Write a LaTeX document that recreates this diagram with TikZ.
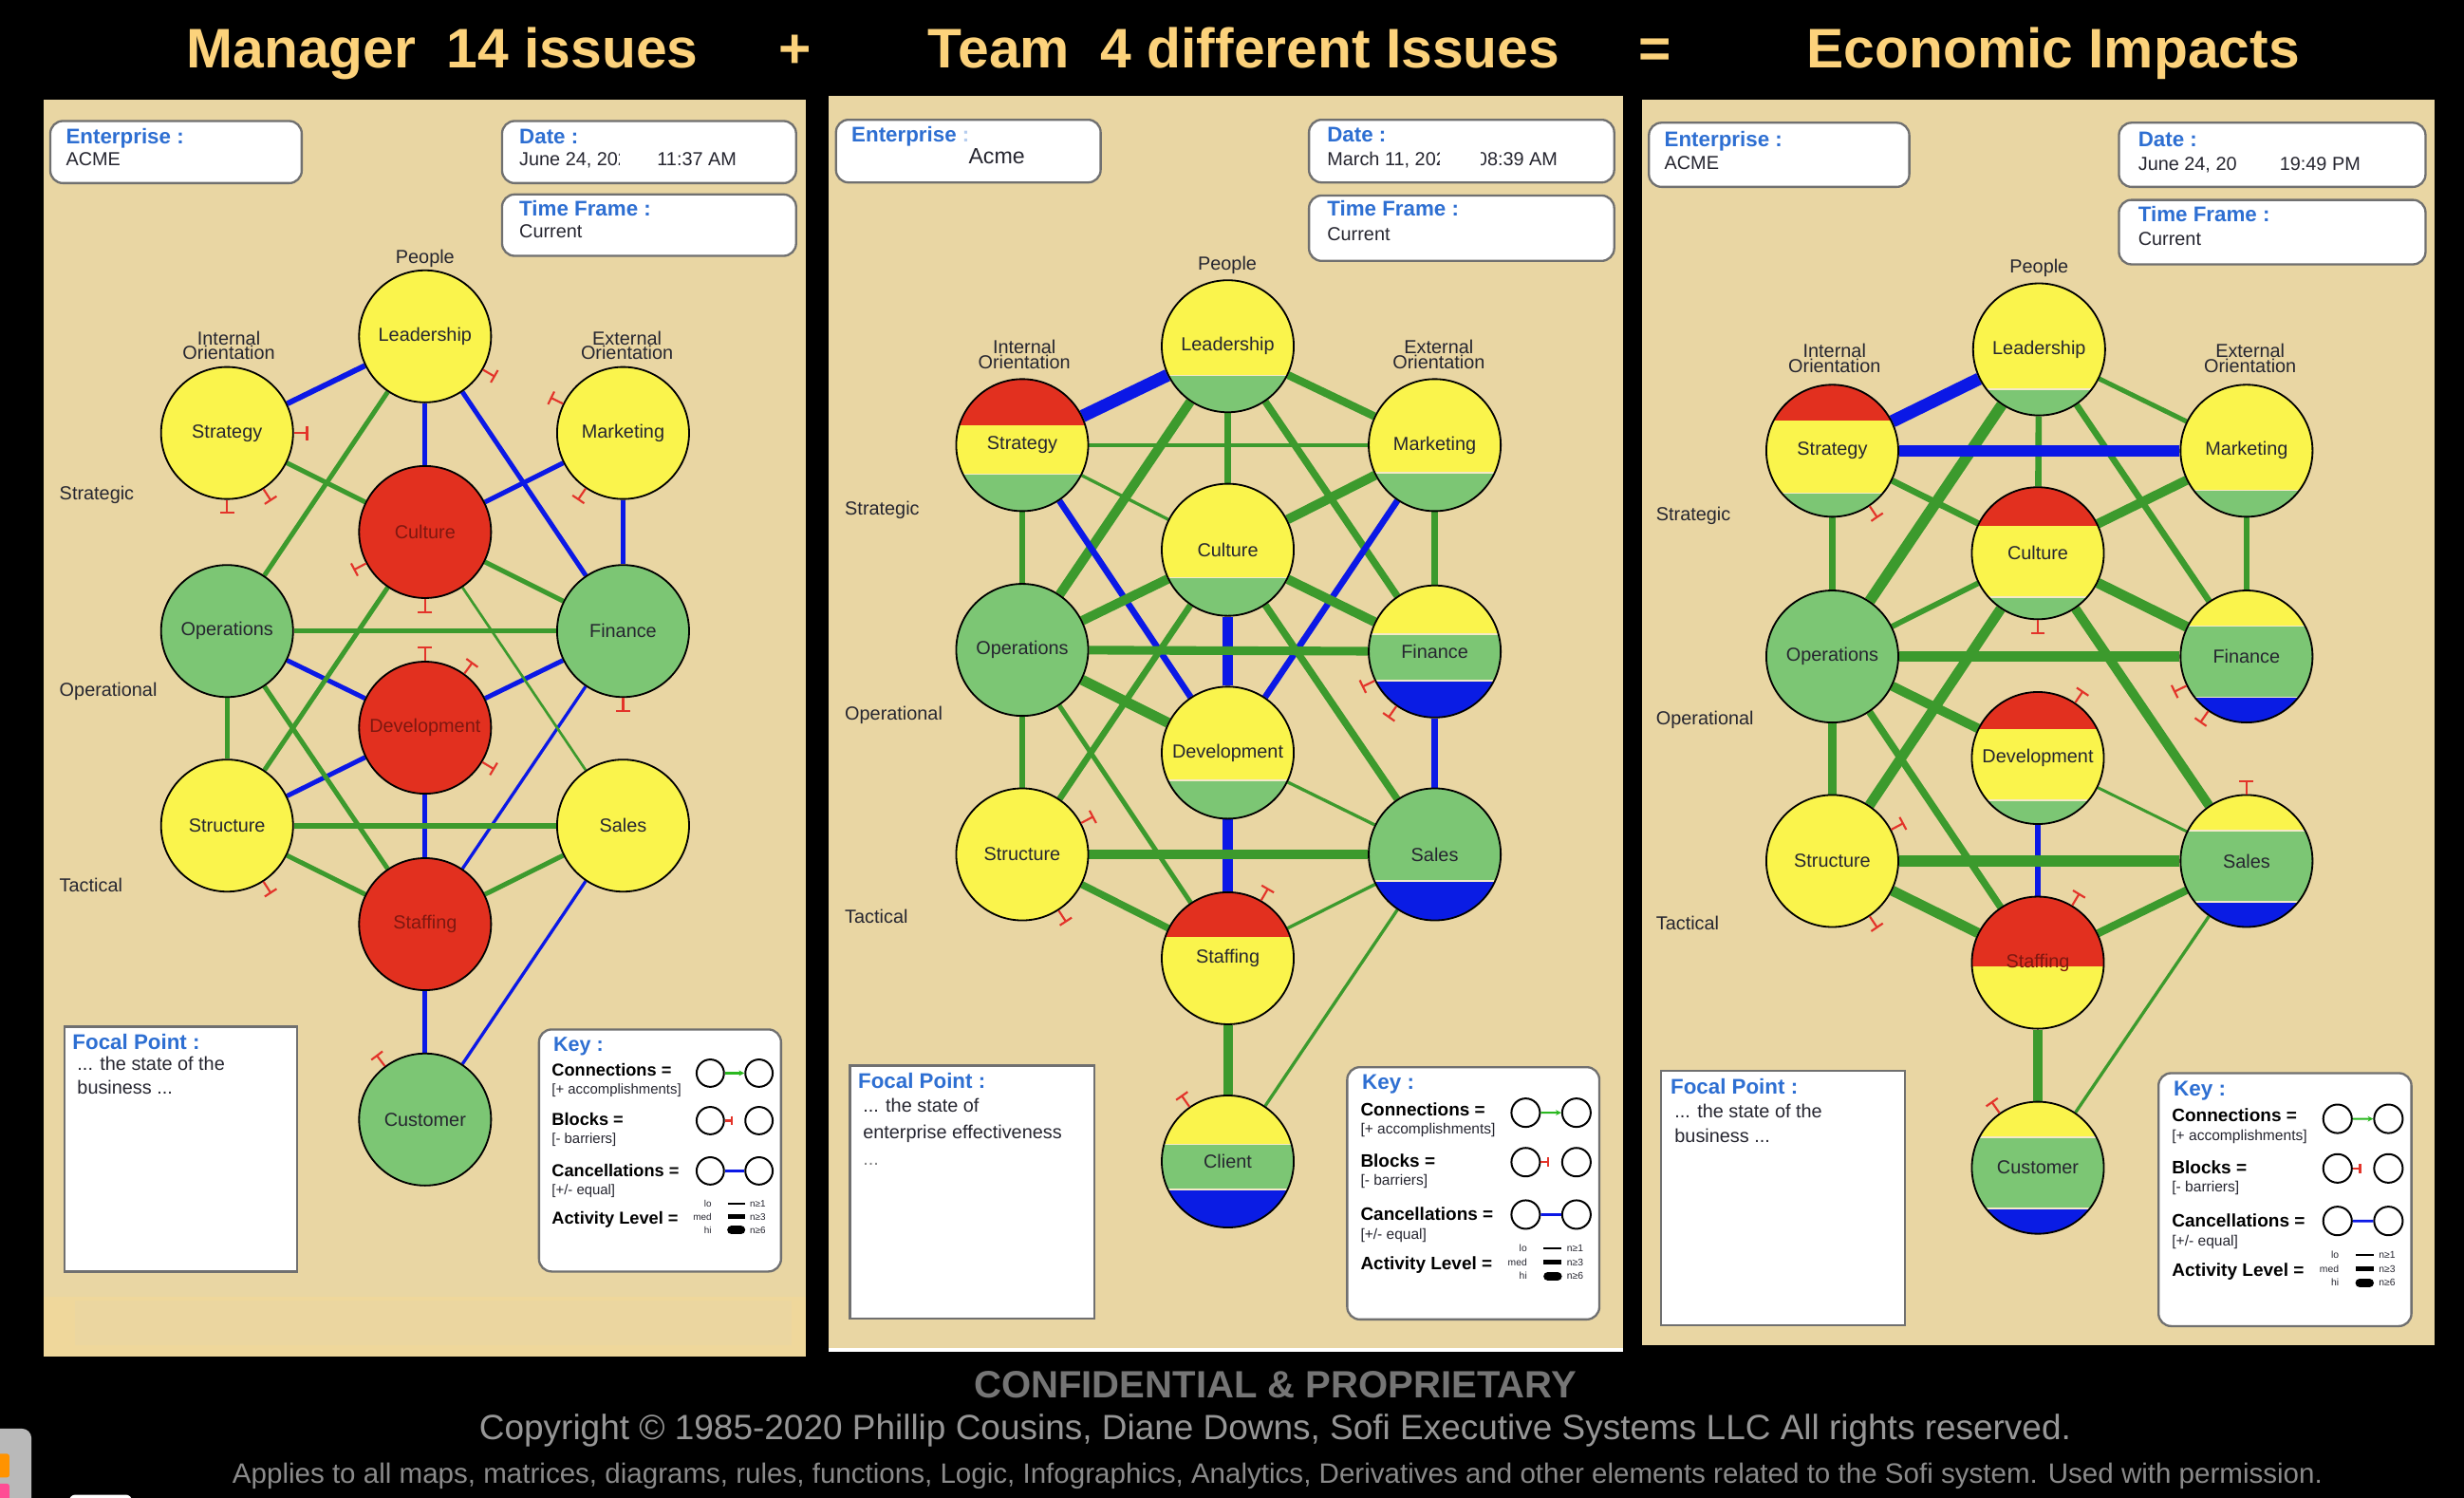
\documentclass[tikz,border=0pt]{standalone}
\usepackage{fontspec}
\setmainfont{Liberation Sans}
\usetikzlibrary{calc,arrows.meta}
\pgfdeclarelayer{bg}
\pgfdeclarelayer{edges}
\pgfsetlayers{bg,edges,main}
\definecolor{panelc}{HTML}{E9D6A3}
\definecolor{stripc}{HTML}{EFD79B}
\definecolor{cY}{HTML}{FAF44C}
\definecolor{cG}{HTML}{7CC674}
\definecolor{cR}{HTML}{E2301F}
\definecolor{cB}{HTML}{0A1CE4}
\definecolor{lG}{HTML}{3C9A2D}
\definecolor{lB}{HTML}{0B18E6}
\definecolor{bkR}{HTML}{E3342A}
\definecolor{tB}{HTML}{2E6FD2}
\definecolor{dR}{HTML}{7E1810}
\definecolor{txt}{HTML}{262630}
\definecolor{ttlc}{HTML}{FCD27B}
\definecolor{ftc}{HTML}{8A8A8A}
\definecolor{boxl}{HTML}{707070}
\definecolor{sepc}{HTML}{F4E9C8}
\newcommand\bnd[3]{\fill[#1] ($(path picture bounding box.north west)!#2!(path picture bounding box.south west)$) rectangle ($(path picture bounding box.north east)!#3!(path picture bounding box.south east)$);}
\newcommand\sep[1]{\draw[sepc, line width=1pt] ($(path picture bounding box.north west)!#1!(path picture bounding box.south west)$) -- ($(path picture bounding box.north east)!#1!(path picture bounding box.south east)$);}
\newcommand\cn[4]{\draw[#1, line width=#2pt] (#3) -- (#4);}
\newcommand\blk[2]{\draw[bkR, line width=1.3pt, -{Bar[width=9pt,line width=1.3pt]}] (#1.#2) -- ++(#2:9pt);}
\tikzset{
 nd/.style={circle, draw=black, line width=1.1pt, minimum size=84pt, inner sep=0pt, text=txt, font=\fontsize{12}{14}\selectfont},
 rd/.style={nd, fill=cR, text=dR},
 yd/.style={nd, fill=cY},
 gd/.style={nd, fill=cG},
 ibox/.style={draw=boxl, line width=1.4pt, fill=white, rounded corners=8pt},
 fbox/.style={draw=boxl, line width=1.4pt, fill=white},
 lbl/.style={font=\bfseries\fontsize{13.5}{15}\selectfont, text=tB, anchor=base west, inner sep=0pt},
 val/.style={font=\fontsize{12}{14}\selectfont, text=txt, anchor=base west, inner sep=0pt},
 ax/.style={font=\fontsize{12}{14}\selectfont, text=txt, anchor=base west, inner sep=0pt},
 axc/.style={font=\fontsize{12}{14}\selectfont, text=txt, anchor=base, inner sep=0pt},
 ttl/.style={font=\bfseries\fontsize{35.5}{40}\selectfont, text=ttlc, anchor=base, inner sep=0pt},
 kh/.style={font=\bfseries\fontsize{13}{15}\selectfont, text=tB, anchor=base west, inner sep=0pt},
 kb/.style={font=\bfseries\fontsize{11}{13}\selectfont, text=black, anchor=base west, inner sep=0pt},
 ks/.style={font=\fontsize{9}{11}\selectfont, text=txt, anchor=base west, inner sep=0pt},
 kt/.style={font=\fontsize{6}{7}\selectfont, text=txt, inner sep=0pt},
 kc/.style={circle, draw=black, line width=1.2pt, minimum size=17.4pt, inner sep=0pt, fill=white},
}
\newcommand\keybox[3]{%
\begin{scope}[shift={(#1,#2)}, scale=#3, transform shape]
 \draw[ibox] (0,0) rectangle (154,154);
 \node[kh] (kk) at (9,13.7) {Key :};
 \node[kb] (k01) at (8,29.7) {Connections =};
 \node[ks] (k02) at (8,40.9) {[+ accomplishments]};
 \node[kb] (k03) at (8,61.3) {Blocks =};
 \node[ks] (k04) at (8,72.3) {[- barriers]};
 \node[kb] (k05) at (8,93.8) {Cancellations =};
 \node[ks] (k06) at (8,105.3) {[+/- equal]};
 \node[kb] (k07) at (8,123.7) {Activity Level =};
 \node[kc] (k1) at (109,27.8) {};
 \node[kc] (k2) at (140,27.8) {};
 \draw[lG!70!green, line width=1.3pt, -{Stealth[length=3.5pt,width=3.5pt]}] (k1) -- (k2);
 \node[kc] (k3) at (109,58) {};
 \node[kc] (k4) at (140,58) {};
 \draw[bkR, line width=1.3pt, -{Bar[width=6pt,line width=1.3pt]}] (k3.east) -- ++(5pt,0);
 \node[kc] (k5) at (109,90) {};
 \node[kc] (k6) at (140,90) {};
 \draw[lB, line width=1.6pt] (k5) -- (k6);
 \node[kt, anchor=base east] (k08) at (110,112.8) {lo};
 \node[kt, anchor=base east] (k09) at (110,121.2) {med};
 \node[kt, anchor=base east] (k10) at (110,129.7) {hi};
 \draw[black, line width=1.2pt] (120,110.8) -- (131,110.8);
 \draw[black, line width=3pt] (120,119.2) -- (131,119.2);
 \draw[black, line width=5.5pt, line cap=round] (122.5,127.7) -- (128.5,127.7);
 \node[kt, anchor=base west] (k11) at (134,112.8) {n≥1};
 \node[kt, anchor=base west] (k12) at (134,121.2) {n≥3};
 \node[kt, anchor=base west] (k13) at (134,129.7) {n≥6};
\end{scope}}
\begin{document}
\begin{tikzpicture}[x=1pt,y=-1pt]
\useasboundingbox (0,0) rectangle (1568,953);
\begin{pgfonlayer}{bg}
\fill[black] (0,0) rectangle (1568,953);
\fill[panelc] (28,63.4) rectangle (513,863);
\fill[stripc] (28,825) rectangle (513,863);
\fill[panelc!60!stripc] (48,827.5) rectangle (503.5,855.7);
\fill[white] (527,60.8) rectangle (1033,860);
\fill[panelc] (527,60.8) rectangle (1033,857.5);
\fill[panelc] (1045,63.4) rectangle (1549,856);
% dock fragment
\fill[gray!55, rounded corners=6pt] (-12,909) rectangle (20,975);
\fill[orange!85!yellow, rounded corners=1.5pt] (-4,925) rectangle (6,940);
\fill[red!60!magenta!70!white, rounded corners=1.5pt] (-4,944) rectangle (6,962);
\fill[white, rounded corners=4pt] (44,951) rectangle (84,965);
\end{pgfonlayer}

% titles
\node[ttl] (t1) at (281.5,43) {Manager\ \ 14 issues};
\node[ttl] (t2) at (506,43) {+};
\node[ttl] (t3) at (791.5,43) {Team\ \ 4 different Issues};
\node[ttl] (t4) at (1053,43) {=};
\node[ttl] (t5) at (1306.5,43) {Economic Impacts};

% footer
\node[anchor=base, inner sep=0pt, text=ftc!85!black, font=\bfseries\fontsize{24.2}{28}\selectfont] (f1) at (811.5,889.6) {CONFIDENTIAL \& PROPRIETARY};
\node[anchor=base, inner sep=0pt, text=ftc!90!white] (f2) at (811.5,916) {\resizebox{1013pt}{!}{\fontsize{21}{24}\selectfont Copyright © 1985-2020 Phillip Cousins, Diane Downs, Sofi Executive Systems LLC All rights reserved.}};
\node[anchor=base, inner sep=0pt, text=ftc] (f3) at (813,944) {\resizebox{1330pt}{!}{\fontsize{17}{20}\selectfont Applies to all maps, matrices, diagrams, rules, functions, Logic, Infographics, Analytics, Derivatives and other elements related to the Sofi system. Used with permission.}};

% ================= PANEL 1 =================
\draw[ibox] (32,77) rectangle (192,116.5);
\draw[ibox] (319.5,77) rectangle (506.6,116.5);
\draw[ibox] (319.5,123.7) rectangle (506.6,162.8);
\node[lbl] (a01) at (41.8,91.4) {Enterprise :};
\node[val] (a02) at (41.8,105.5) {ACME};
\node[lbl] (a03) at (330.3,91.4) {Date :};
\begin{scope}
\clip (325,95) rectangle (394.3,112);
\node[val] (a04) at (330.3,105.5) {June 24, 2020};
\end{scope}
\node[val] (a05) at (418,105.5) {11:37 AM};
\node[lbl] (a06) at (330.3,137.5) {Time Frame :};
\node[val] (a07) at (330.3,151) {Current};
\node[axc] (a08) at (270.5,167.9) {People};
\node[axc] (a09) at (145.6,219.7) {Internal};
\node[axc] (a10) at (145.6,228.6) {Orientation};
\node[axc] (a11) at (399,219.7) {External};
\node[axc] (a12) at (399,228.6) {Orientation};
\node[ax] (a13) at (37.7,318) {Strategic};
\node[ax] (a14) at (37.7,443.3) {Operational};
\node[ax] (a15) at (37.7,567.6) {Tactical};

\node[yd] (aL) at (270.5,214) {Leadership};
\node[yd] (aS) at (144.5,275.5) {Strategy};
\node[yd] (aM) at (396.5,275.5) {Marketing};
\node[rd] (aC) at (270.5,338.5) {Culture};
\node[gd] (aO) at (144.5,401.5) {Operations};
\node[gd] (aF) at (396.5,401.5) {Finance};
\node[rd] (aD) at (270.5,463) {Development};
\node[yd] (aT) at (144.5,525.3) {Structure};
\node[yd] (aA) at (396.5,525.3) {Sales};
\node[rd] (aP) at (270.5,588) {Staffing};
\node[gd] (aU) at (270.5,712.3) {Customer};

\begin{pgfonlayer}{edges}
\cn{lB}{3.5}{aL}{aS}
\cn{lB}{3}{aL}{aC}
\cn{lB}{3}{aL}{aF}
\cn{lB}{3}{aM}{aC}
\cn{lB}{3}{aM}{aF}
\cn{lB}{3}{aO}{aD}
\cn{lB}{3}{aF}{aD}
\cn{lB}{3}{aT}{aD}
\cn{lB}{3}{aD}{aP}
\cn{lB}{2}{aF}{aP}
\cn{lB}{2}{aA}{aU}
\cn{lB}{3}{aP}{aU}
\cn{lG}{3}{aL}{aO}
\cn{lG}{3}{aS}{aC}
\cn{lG}{3}{aC}{aF}
\cn{lG}{3}{aC}{aT}
\cn{lG}{1.6}{aC}{aA}
\cn{lG}{3}{aO}{aF}
\cn{lG}{3}{aO}{aT}
\cn{lG}{3}{aO}{aP}
\cn{lG}{3.5}{aT}{aA}
\cn{lG}{3}{aT}{aP}
\cn{lG}{3}{aA}{aP}
\end{pgfonlayer}
\blk{aL}{-30}
\blk{aS}{0}
\blk{aS}{-90}
\blk{aS}{-57}
\blk{aM}{154}
\blk{aM}{-124}
\blk{aC}{-152}
\blk{aC}{-90}
\blk{aD}{90}
\blk{aD}{54}
\blk{aF}{-90}
\blk{aD}{-31}
\blk{aT}{-57}
\blk{aU}{127}

\draw[fbox] (41,653.3) rectangle (189,809);
\node[lbl] (a16) at (46,667.9) {Focal Point :};
\node[val] (a17) at (49,681) {... the state of the};
\node[val] (a18) at (49,696) {business ...};
\keybox{343}{655}{1}

% ================= PANEL 2 =================
\draw[ibox] (532,76.2) rectangle (700.4,116.1);
\draw[ibox] (833,76.2) rectangle (1027.2,116.1);
\draw[ibox] (833,124.4) rectangle (1027.2,166);
\node[lbl] (b01) at (541.7,90) {Enterprise \textcolor{tB!35!white}{:}};
\node[val, font=\fontsize{14}{16}\selectfont] (b02) at (616.2,104) {Acme};
\node[lbl] (b03) at (844.4,90) {Date :};
\begin{scope}
\clip (840,94) rectangle (916.2,112);
\node[val] (b04) at (844.4,105.6) {March 11, 2020};
\end{scope}
\begin{scope}
\clip (942.3,94) rectangle (1020,112);
\node[val] (b05) at (939.6,105.6) {08:39 AM};
\end{scope}
\node[lbl] (b06) at (844.4,137.6) {Time Frame :};
\node[val] (b07) at (844.4,153.2) {Current};
\node[axc] (b08) at (781,171.7) {People};
\node[axc] (b09) at (651.8,225.2) {Internal};
\node[axc] (b10) at (651.8,234.9) {Orientation};
\node[axc] (b11) at (915.6,225.2) {External};
\node[axc] (b12) at (915.6,234.9) {Orientation};
\node[ax] (b13) at (537.5,327.7) {Strategic};
\node[ax] (b14) at (537.5,458) {Operational};
\node[ax] (b15) at (537.5,587.3) {Tactical};

\node[nd, path picture={\bnd{cY}{0}{0.72}\bnd{cG}{0.72}{1}\sep{0.72}}] (bL) at (781.3,220.3) {Leadership};
\node[nd, path picture={\bnd{cR}{0}{0.35}\bnd{cY}{0.35}{0.72}\bnd{cG}{0.72}{1}\sep{0.72}}] (bS) at (650.5,283.2) {Strategy};
\node[nd, path picture={\bnd{cY}{0}{0.71}\bnd{cG}{0.71}{1}\sep{0.71}}] (bM) at (913,283.2) {Marketing};
\node[nd, path picture={\bnd{cY}{0}{0.71}\bnd{cG}{0.71}{1}\sep{0.71}}] (bC) at (781.3,349.8) {Culture};
\node[gd] (bO) at (650.5,413.5) {Operations};
\node[nd, path picture={\bnd{cY}{0}{0.37}\bnd{cG}{0.37}{0.72}\bnd{cB}{0.72}{1}\sep{0.37}\sep{0.72}}] (bF) at (913,414.5) {Finance};
\node[nd, path picture={\bnd{cY}{0}{0.71}\bnd{cG}{0.71}{1}\sep{0.71}}] (bD) at (781.3,478.9) {Development};
\node[yd] (bT) at (650.5,543.6) {Structure};
\node[nd, path picture={\bnd{cG}{0}{0.70}\bnd{cB}{0.70}{1}\sep{0.70}}] (bA) at (913,543.6) {Sales};
\node[nd, path picture={\bnd{cR}{0}{0.34}\bnd{cY}{0.34}{1}}] (bP) at (781.3,609.7) {Staffing};
\node[nd, path picture={\bnd{cY}{0}{0.37}\bnd{cG}{0.37}{0.71}\bnd{cB}{0.71}{1}\sep{0.37}\sep{0.71}}] (bU) at (781.3,739) {Client};

\begin{pgfonlayer}{edges}
\cn{lB}{8}{bL}{bS}
\cn{lG}{5}{bL}{bM}
\cn{lG}{4}{bL}{bC}
\cn{lG}{6}{bL}{bO}
\cn{lG}{4.5}{bL}{bF}
\cn{lG}{2}{bS}{bM}
\cn{lG}{2}{bS}{bC}
\cn{lG}{4}{bS}{bO}
\cn{lB}{4}{bS}{bD}
\cn{lG}{6}{bM}{bC}
\cn{lG}{4}{bM}{bF}
\cn{lB}{4}{bM}{bD}
\cn{lG}{6}{bC}{bO}
\cn{lG}{6}{bC}{bF}
\cn{lB}{7}{bC}{bD}
\cn{lG}{4}{bC}{bT}
\cn{lG}{4.5}{bC}{bA}
\cn{lG}{5.5}{bO}{bF}
\cn{lG}{6.5}{bO}{bD}
\cn{lG}{3}{bO}{bP}
\cn{lG}{4}{bO}{bT}
\cn{lB}{4.5}{bF}{bA}
\cn{lG}{2}{bD}{bA}
\cn{lB}{7}{bD}{bP}
\cn{lG}{5.5}{bT}{bA}
\cn{lG}{4.5}{bT}{bP}
\cn{lG}{2}{bA}{bP}
\cn{lG}{2}{bA}{bU}
\cn{lG}{6}{bP}{bU}
\end{pgfonlayer}
\blk{bF}{-154}
\blk{bF}{-125}
\blk{bT}{28}
\blk{bT}{-57}
\blk{bP}{60}
\blk{bU}{125}

\draw[fbox] (540.8,678) rectangle (696.4,838.8);
\node[lbl] (b16) at (545.9,692.5) {Focal Point :};
\node[val] (b17) at (549,707.3) {... the state of};
\node[val] (b18) at (549,724.2) {enterprise effectiveness};
\node[val, text=gray] (b19) at (549,741.5) {...};
\keybox{857.3}{679}{1.042}

% ================= PANEL 3 =================
\draw[ibox] (1049.3,78.1) rectangle (1215,118.9);
\draw[ibox] (1348.4,78.1) rectangle (1543.5,118.9);
\draw[ibox] (1348.4,127.2) rectangle (1543.5,168.2);
\node[lbl] (c01) at (1059,93.3) {Enterprise :};
\node[val] (c02) at (1059,107.7) {ACME};
\node[lbl] (c03) at (1360.5,93.3) {Date :};
\node[val] (c04) at (1360.5,108.2) {June 24, 20};
\node[val] (c05) at (1450.5,108.2) {19:49 PM};
\node[lbl] (c06) at (1360.5,141.3) {Time Frame :};
\node[val] (c07) at (1360.5,155.9) {Current};
\node[axc] (c08) at (1297.6,173.9) {People};
\node[axc] (c09) at (1167.4,227.3) {Internal};
\node[axc] (c10) at (1167.4,237.1) {Orientation};
\node[axc] (c11) at (1431.9,227.3) {External};
\node[axc] (c12) at (1431.9,237.1) {Orientation};
\node[ax] (c13) at (1053.7,331.1) {Strategic};
\node[ax] (c14) at (1053.7,461.3) {Operational};
\node[ax] (c15) at (1053.7,591.5) {Tactical};

\node[nd, path picture={\bnd{cY}{0}{0.80}\bnd{cG}{0.80}{1}\sep{0.80}}] (cL) at (1297.6,222.3) {Leadership};
\node[nd, path picture={\bnd{cR}{0}{0.27}\bnd{cY}{0.27}{0.82}\bnd{cG}{0.82}{1}\sep{0.82}}] (cS) at (1166,286.8) {Strategy};
\node[nd, path picture={\bnd{cY}{0}{0.80}\bnd{cG}{0.80}{1}\sep{0.80}}] (cM) at (1429.6,286.8) {Marketing};
\node[nd, path picture={\bnd{cR}{0}{0.29}\bnd{cY}{0.29}{0.83}\bnd{cG}{0.83}{1}\sep{0.83}}] (cC) at (1296.8,352) {Culture};
\node[gd] (cO) at (1166,417.7) {Operations};
\node[nd, path picture={\bnd{cY}{0}{0.27}\bnd{cG}{0.27}{0.81}\bnd{cB}{0.81}{1}\sep{0.27}\sep{0.81}}] (cF) at (1429.6,417.7) {Finance};
\node[nd, path picture={\bnd{cR}{0}{0.28}\bnd{cY}{0.28}{0.82}\bnd{cG}{0.82}{1}\sep{0.82}}] (cD) at (1296.8,482.3) {Development};
\node[yd] (cT) at (1166,547.8) {Structure};
\node[nd, path picture={\bnd{cY}{0}{0.27}\bnd{cG}{0.27}{0.81}\bnd{cB}{0.81}{1}\sep{0.27}\sep{0.81}}] (cA) at (1429.6,547.8) {Sales};
\node[nd, text=dR, path picture={\bnd{cR}{0}{0.53}\bnd{cY}{0.53}{1}}] (cP) at (1296.8,612.5) {Staffing};
\node[nd, path picture={\bnd{cY}{0}{0.27}\bnd{cG}{0.27}{0.81}\bnd{cB}{0.81}{1}\sep{0.27}\sep{0.81}}] (cU) at (1296.8,743) {Customer};

\begin{pgfonlayer}{edges}
\cn{lB}{8}{cL}{cS}
\cn{lG}{3}{cL}{cM}
\cn{lG}{4}{cL}{cC}
\cn{lG}{7}{cL}{cO}
\cn{lG}{4}{cL}{cF}
\cn{lB}{7}{cS}{cM}
\cn{lG}{4}{cS}{cC}
\cn{lG}{4}{cS}{cO}
\cn{lG}{6}{cM}{cC}
\cn{lG}{4}{cM}{cF}
\cn{lG}{3.5}{cC}{cO}
\cn{lG}{6.5}{cC}{cF}
\cn{lG}{6.5}{cC}{cT}
\cn{lG}{6}{cC}{cA}
\cn{lG}{6.5}{cO}{cF}
\cn{lG}{6}{cO}{cD}
\cn{lG}{4.5}{cO}{cP}
\cn{lG}{6}{cO}{cT}
\cn{lB}{4}{cD}{cP}
\cn{lG}{1.8}{cD}{cA}
\cn{lG}{7}{cT}{cA}
\cn{lG}{6.5}{cT}{cP}
\cn{lG}{5}{cA}{cP}
\cn{lG}{2}{cA}{cU}
\cn{lG}{6.5}{cP}{cU}
\end{pgfonlayer}
\blk{cS}{-56}
\blk{cC}{-90}
\blk{cD}{56}
\blk{cF}{-154}
\blk{cF}{-125}
\blk{cA}{90}
\blk{cT}{28}
\blk{cT}{-56}
\blk{cP}{59}
\blk{cU}{125}

\draw[fbox] (1057,681.3) rectangle (1212.4,843.3);
\node[lbl] (c16) at (1062.9,696.1) {Focal Point :};
\node[val] (c17) at (1065.5,711.4) {... the state of the};
\node[val] (c18) at (1065.5,726.9) {business ...};
\keybox{1373.6}{682.8}{1.045}
\end{tikzpicture}
\end{document}
